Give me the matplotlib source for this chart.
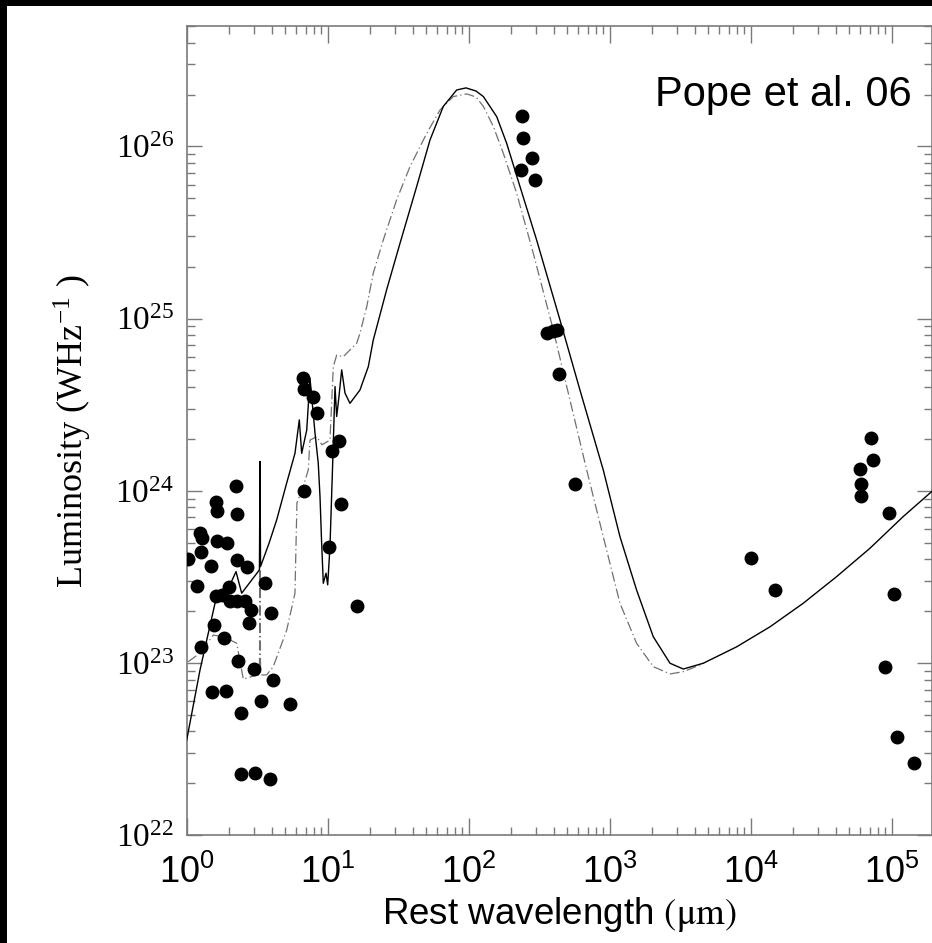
import math
import matplotlib
matplotlib.use("Agg")
import matplotlib.pyplot as plt
from matplotlib.patches import Rectangle
from matplotlib.ticker import LogLocator, FuncFormatter, NullFormatter

plt.rcParams['mathtext.fontset'] = 'stix'

# ---------------- data (rest wavelength in micron, luminosity in W/Hz) ----------------
# photometric points
pts_wl = [2.23, 1.61, 1.65, 2.29, 1.24, 1.28, 1.65, 1.92, 1.26, 1.02,
          2.29, 1.49, 2.67, 3.59, 1.19, 2.00, 1.61, 1.77, 2.03, 2.26,
          2.59, 2.86, 3.94, 2.77, 1.56, 1.85, 1.26, 2.32, 3.00, 4.11,
          1.52, 1.90, 3.38, 5.40, 2.44, 2.43, 3.05, 3.90,
          6.79, 12.4, 10.2, 16.2, 6.71, 6.82, 7.91, 8.36, 10.8, 12.0,
          240, 242, 282, 235, 295, 361, 398, 425, 435, 570,
          1.0e4, 1.49e4, 7.1e4, 7.4e4, 5.96e4, 6.05e4, 6.03e4, 9.5e4, 1.04e5, 8.9e4,
          1.09e5, 1.44e5]
pts_lum = [1.07e24, 8.6e23, 7.6e23, 7.3e23, 5.7e23, 5.3e23, 5.1e23, 4.95e23, 4.4e23, 4.0e23,
           3.96e23, 3.66e23, 3.62e23, 2.9e23, 2.8e23, 2.77e23, 2.43e23, 2.48e23, 2.29e23, 2.29e23,
           2.29e23, 2.03e23, 1.96e23, 1.71e23, 1.66e23, 1.39e23, 1.24e23, 1.03e23, 9.2e22, 7.96e22,
           6.75e22, 6.9e22, 6.03e22, 5.77e22, 5.14e22, 2.26e22, 2.30e22, 2.11e22,
           1.0e24, 8.4e23, 4.7e23, 2.14e23, 4.54e24, 3.89e24, 3.52e24, 2.82e24, 1.71e24, 1.95e24,
           1.51e26, 1.12e26, 8.55e25, 7.31e25, 6.4e25, 8.3e24, 8.5e24, 8.6e24, 4.77e24, 1.10e24,
           4.09e23, 2.65e23, 2.02e24, 1.51e24, 1.33e24, 1.09e24, 9.33e23, 7.46e23, 2.51e23, 9.4e22,
           3.73e22, 2.61e22]

# solid model SED
sed_wl = [1.00, 1.243, 1.588, 2.028, 2.237, 2.455, 3.28, 3.31, 3.34, 3.835,
          4.345, 5.12, 5.86, 6.29, 6.54, 7.10, 7.49, 7.70, 8.13, 8.57,
          8.82, 9.06, 9.31, 9.73, 10.0, 10.38, 10.85, 11.27, 11.58, 12.02,
          12.57, 13.27, 14.39, 16.94, 19.41, 21.06, 26.18, 32.58, 42.76, 53.15,
          66.07, 82.22, 95.7, 112.7, 127.1, 158.1, 186.2, 231.2, 303.4, 444.1,
          615.2, 900.7, 1183, 1552, 2037, 2679, 3327, 4613, 7962, 1.371e4,
          2.36e4, 4.07e4, 7.01e4, 1.208e5, 1.923e5]
sed_lum = [3.56e22, 9.10e22, 2.22e23, 2.84e23, 3.39e23, 2.54e23, 3.47e23, 1.48e24, 3.63e23, 4.95e23,
           6.76e23, 1.11e24, 1.65e24, 2.58e24, 1.65e24, 2.25e24, 4.51e24, 3.52e24, 2.16e24, 1.45e24,
           9.25e23, 4.95e23, 2.90e23, 3.32e23, 2.84e23, 4.73e23, 1.45e24, 4.03e24, 2.70e24, 3.52e24,
           5.04e24, 3.69e24, 3.22e24, 3.85e24, 5.26e24, 7.52e24, 1.47e25, 2.74e25, 5.85e25, 1.09e26,
           1.71e26, 2.13e26, 2.19e26, 2.10e26, 1.95e26, 1.49e26, 1.04e26, 5.85e25, 2.86e25, 9.82e24,
           3.85e24, 1.32e24, 5.41e23, 2.65e23, 1.42e23, 9.95e22, 9.21e22, 9.95e22, 1.24e23, 1.62e23,
           2.22e23, 3.17e23, 4.63e23, 7.08e23, 9.89e23]

# dash-dot comparison template
tpl_wl = [1.026, 1.243, 1.544, 1.818, 2.263, 2.52, 3.14, 3.28, 3.31, 3.34,
          3.69, 4.11, 5.12, 5.86, 6.05, 6.71, 7.28, 7.49, 8.36, 9.11,
          10.38, 10.96, 11.59, 12.90, 14.39, 16.06, 16.94, 18.91, 21.06, 24.77,
          30.83, 38.35, 50.35, 62.6, 77.8, 96.8, 112.7, 127.1, 149.4, 176.0,
          218.8, 287.1, 398.1, 522.4, 687.1, 900.7, 1183, 1552, 2037, 2679,
          3327, 4027, 4613]
tpl_lum = [1.016e23, 1.14e23, 1.45e23, 1.42e23, 1.30e23, 8.04e22, 8.51e22, 8.51e22, 3.62e23, 8.51e22,
           8.51e22, 9.51e22, 1.55e23, 2.54e23, 8.49e23, 1.06e24, 1.32e24, 1.97e24, 2.06e24, 1.85e24,
           1.97e24, 5.26e24, 6.15e24, 6.01e24, 6.58e24, 7.19e24, 8.22e24, 1.17e25, 1.84e25, 2.86e25,
           4.90e25, 7.64e25, 1.19e26, 1.63e26, 1.95e26, 2.02e26, 1.94e26, 1.71e26, 1.31e26, 9.14e25,
           5.36e25, 2.40e25, 8.59e24, 3.37e24, 1.32e24, 5.41e23, 2.22e23, 1.30e23, 9.51e22, 8.62e22,
           8.89e22, 9.46e22, 9.95e22]

# ---------------- figure ----------------
W, H = 932, 943
fig = plt.figure(figsize=(W / 100, H / 100), dpi=100, facecolor='white')
ax = fig.add_axes([186.7 / W, (H - 835) / H, (931.7 - 186.7) / W, (835 - 26) / H])

ax.plot(tpl_wl, tpl_lum, color='#707070', lw=0.9,
        linestyle=(0, (8, 2.5, 1, 2.5)), zorder=2)
ax.plot(sed_wl, sed_lum, color='black', lw=1.0, zorder=3)
ax.plot(pts_wl, pts_lum, 'o', color='black', ms=9, mec='black', zorder=4)

ax.set_xscale('log')
ax.set_yscale('log')
ax.set_xlim(1, 10 ** 5.284)
ax.set_ylim(1e22, 10 ** 26.70)

ax.xaxis.set_major_locator(LogLocator(base=10, numticks=20))
ax.yaxis.set_major_locator(LogLocator(base=10, numticks=20))
ax.xaxis.set_minor_locator(LogLocator(base=10, subs=range(2, 10), numticks=40))
ax.yaxis.set_minor_locator(LogLocator(base=10, subs=range(2, 10), numticks=40))
ax.xaxis.set_minor_formatter(NullFormatter())
ax.yaxis.set_minor_formatter(NullFormatter())
pow_fmt = FuncFormatter(lambda v, p: r'$\mathregular{10^{%d}}$' % round(math.log10(v)))
ax.xaxis.set_major_formatter(pow_fmt)
ax.yaxis.set_major_formatter(pow_fmt)

tick_col = '#7a7a7a'
ax.tick_params(which='both', direction='in', top=True, right=True, color=tick_col, width=1.0)
ax.tick_params(axis='x', which='major', length=12, pad=14, labelsize=26)
ax.tick_params(axis='y', which='major', length=11, pad=9, labelsize=24)
ax.tick_params(which='minor', length=6)
for lab in ax.get_xticklabels():
    lab.set_fontfamily('Liberation Sans')
for lab in ax.get_yticklabels():
    lab.set_fontfamily('Liberation Serif')
for s in ax.spines.values():
    s.set_color(tick_col)
    s.set_linewidth(1.2)

ax.set_xlabel(r'Rest wavelength $\mathrm{(\mu m)}$', fontsize=26.5,
              fontfamily='Liberation Sans', labelpad=3)
ax.set_ylabel(r'Luminosity (WHz$^{\mathregular{-1}}$ )', fontsize=26,
              fontfamily='Liberation Serif', labelpad=16)

fig.text(912 / W, (H - 106) / H, 'Pope et al. 06', fontsize=30,
         fontfamily='Liberation Sans', ha='right', va='baseline')

# black border strips of the screenshot
fig.patches.append(Rectangle((0, 1 - 6 / H), 1, 6 / H, transform=fig.transFigure,
                             facecolor='black', edgecolor='none', zorder=10))
fig.patches.append(Rectangle((0, 0), 7 / W, 1, transform=fig.transFigure,
                             facecolor='black', edgecolor='none', zorder=10))

fig.savefig('out.png', dpi=100, facecolor='white')
